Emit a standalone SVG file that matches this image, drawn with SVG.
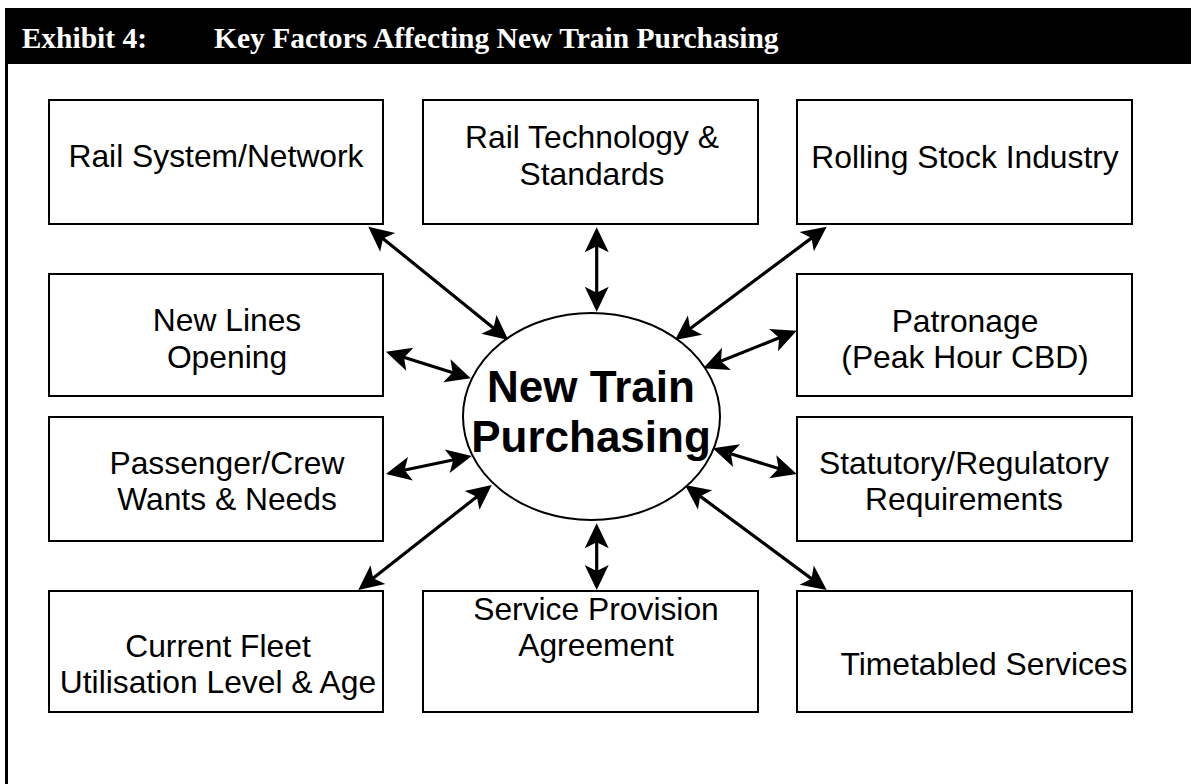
<svg xmlns="http://www.w3.org/2000/svg" width="1194" height="784" viewBox="0 0 1194 784">
  <style>
    .box { fill: #ffffff; stroke: #000000; stroke-width: 2; }
    .lbl { font-family: "Liberation Sans", Arial, sans-serif; font-size: 31.8px; fill: #000000; text-anchor: middle; }
    .hub { font-family: "Liberation Sans", Arial, sans-serif; font-size: 44px; font-weight: bold; fill: #000000; text-anchor: middle; }
    .head { font-family: "Liberation Serif", "Times New Roman", serif; font-size: 29.5px; font-weight: bold; fill: #ffffff; }
    .link { stroke: #000000; stroke-width: 3.2; fill: none; marker-start: url(#tip); marker-end: url(#tip); }
  </style>
  <defs>
    <marker id="tip" markerUnits="userSpaceOnUse" viewBox="-20 -20 40 40" markerWidth="40" markerHeight="40" refX="0" refY="0" orient="auto-start-reverse" overflow="visible">
      <path d="M12,0 L-13,-12 L-7,0 L-13,12 Z" fill="#000000"/>
    </marker>
  </defs>

  <rect width="1194" height="784" fill="#ffffff"/>

  <!-- title bar and frame -->
  <g id="title">
    <rect x="5" y="8" width="1186" height="56" fill="#000000"/>
    <line x1="6.5" y1="63" x2="6.5" y2="784" stroke="#000000" stroke-width="3"/>
    <text class="head" x="21.7" y="48.3">Exhibit 4:</text>
    <text class="head" x="214" y="48.3">Key Factors Affecting New Train Purchasing</text>
  </g>

  <!-- connectors -->
  <g id="connectors">
    <line class="link" x1="377.6" y1="234.2" x2="499.0" y2="332.5"/>
    <line class="link" x1="596.7" y1="239.3" x2="596.7" y2="299.7"/>
    <line class="link" x1="817.1" y1="233.9" x2="684.6" y2="332.8"/>
    <line class="link" x1="397.4" y1="355.3" x2="459.3" y2="374.7"/>
    <line class="link" x1="785.6" y1="335.2" x2="714.4" y2="363.8"/>
    <line class="link" x1="397.7" y1="471.5" x2="460.0" y2="458.5"/>
    <line class="link" x1="724.2" y1="451.8" x2="785.2" y2="470.5"/>
    <line class="link" x1="482.3" y1="492.4" x2="367.7" y2="582.6"/>
    <line class="link" x1="596.7" y1="535.3" x2="596.7" y2="578"/>
    <line class="link" x1="694.6" y1="492.1" x2="817.1" y2="582.9"/>
  </g>

  <!-- central node -->
  <g id="hub">
    <ellipse cx="591.5" cy="416.5" rx="128.5" ry="103.5" fill="#ffffff" stroke="#000000" stroke-width="2"/>
    <text class="hub" x="591" y="401.7">New Train</text>
    <text class="hub" x="591" y="452">Purchasing</text>
  </g>

  <!-- factor nodes -->
  <g id="rail-system">
    <rect class="box" x="49" y="100" width="334" height="124"/>
    <text class="lbl" x="216" y="167">Rail System/Network</text>
  </g>
  <g id="rail-technology">
    <rect class="box" x="423" y="100" width="335" height="124"/>
    <text class="lbl" x="592" y="148">Rail Technology &amp;</text>
    <text class="lbl" x="592" y="185">Standards</text>
  </g>
  <g id="rolling-stock">
    <rect class="box" x="797" y="100" width="335" height="124"/>
    <text class="lbl" x="965" y="167.5">Rolling Stock Industry</text>
  </g>
  <g id="new-lines">
    <rect class="box" x="49" y="274" width="334" height="122"/>
    <text class="lbl" x="227" y="331">New Lines</text>
    <text class="lbl" x="227" y="367.5">Opening</text>
  </g>
  <g id="patronage">
    <rect class="box" x="797" y="274" width="335" height="122"/>
    <text class="lbl" x="965" y="331.5">Patronage</text>
    <text class="lbl" x="965" y="367.7">(Peak Hour CBD)</text>
  </g>
  <g id="passenger-crew">
    <rect class="box" x="49" y="417" width="334" height="124"/>
    <text class="lbl" x="227" y="473.5">Passenger/Crew</text>
    <text class="lbl" x="227" y="510">Wants &amp; Needs</text>
  </g>
  <g id="statutory">
    <rect class="box" x="797" y="417" width="335" height="124"/>
    <text class="lbl" x="964" y="473.5">Statutory/Regulatory</text>
    <text class="lbl" x="964" y="510">Requirements</text>
  </g>
  <g id="current-fleet">
    <rect class="box" x="49" y="591" width="334" height="121"/>
    <text class="lbl" x="218" y="656.7">Current Fleet</text>
    <text class="lbl" x="218" y="693.3">Utilisation Level &amp; Age</text>
  </g>
  <g id="service-provision">
    <rect class="box" x="423" y="591" width="335" height="121"/>
    <text class="lbl" x="596" y="619.5">Service Provision</text>
    <text class="lbl" x="596" y="656">Agreement</text>
  </g>
  <g id="timetabled">
    <rect class="box" x="797" y="591" width="335" height="121"/>
    <text class="lbl" x="984" y="675">Timetabled Services</text>
  </g>
</svg>
